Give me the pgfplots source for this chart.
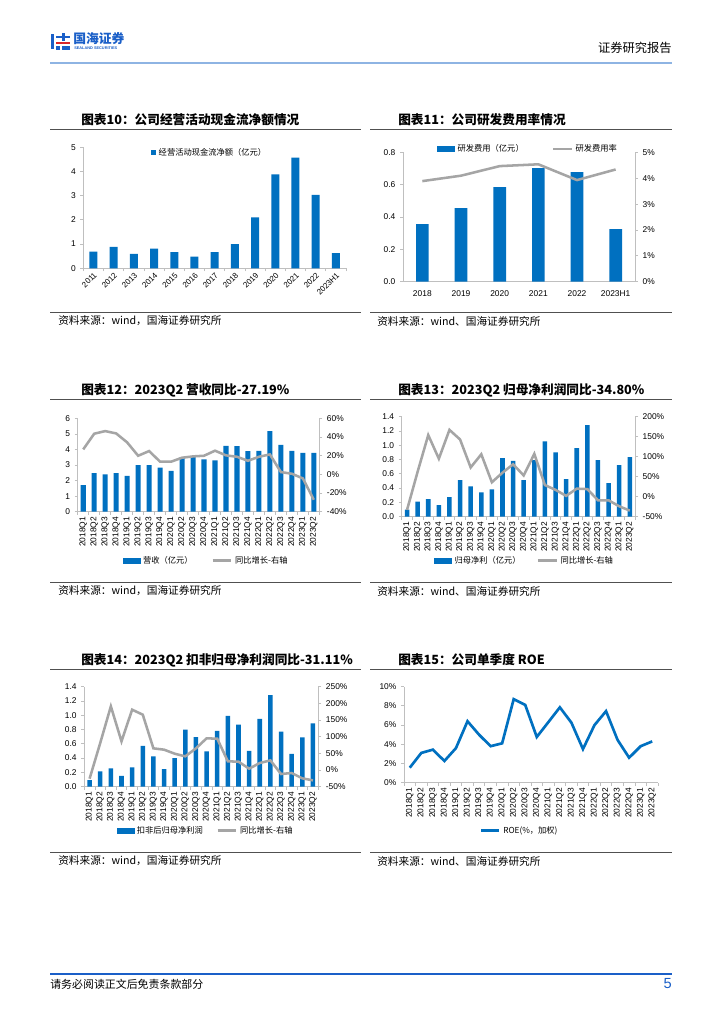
\documentclass[border=0pt]{standalone}
\usepackage{fontspec}
\setmainfont{Liberation Sans}
\newfontfamily\cjk{Noto Sans CJK SC}
\usepackage{pgfplots}
\pgfplotsset{compat=1.18}

\definecolor{barblue}{HTML}{0070C0}
\definecolor{linegrey}{HTML}{A5A5A5}
\definecolor{axgrey}{HTML}{BFBFBF}
\definecolor{rulegrey}{HTML}{505050}
\definecolor{hdrblue}{HTML}{1A5FC8}
\definecolor{hdrline}{HTML}{8EB4E3}
\definecolor{logored}{HTML}{D9262B}

\pgfplotsset{
  base/.style={
    scale only axis, anchor=south west, clip=false,
    /pgf/number format/assume math mode=true,
    tick label style={font=\fontsize{6.3}{7}\selectfont},
    axis line style={axgrey, line width=0.6pt},
    tick style={axgrey, line width=0.6pt},
    major tick length=2.2pt, tick align=outside,
  },
  leftax/.style={base, axis x line*=bottom, axis y line*=left},
  rightax/.style={base, axis x line=none, axis y line*=right,
    yticklabel={\pgfmathprintnumber{\tick}\%}},
  qx/.style={xmin=-0.5, xmax=21.5, xtick={-0.5,0.5,...,21.5}, x tick label as interval,
    xticklabels={2018Q1,2018Q2,2018Q3,2018Q4,2019Q1,2019Q2,2019Q3,2019Q4,2020Q1,2020Q2,2020Q3,2020Q4,2021Q1,2021Q2,2021Q3,2021Q4,2022Q1,2022Q2,2022Q3,2022Q4,2023Q1,2023Q2},
    xticklabel style={rotate=90, anchor=east, inner xsep=1.5pt, inner ysep=0.3pt}},
  dual legend/.style={legend style={draw=none, fill=none,
    font=\cjk\fontsize{6.2}{7}\selectfont, legend columns=2, anchor=center,
    /tikz/every even column/.append style={column sep=#1}}},
  barimg/.style={legend image code/.code={\fill[barblue] (0pt,-1.9pt) rectangle (12.8pt,1.9pt);}},
  lineimg/.style={legend image code/.code={\draw[linegrey, line width=1.9pt] (0pt,0pt) -- (14pt,0pt);}},
}

\begin{document}
\begin{tikzpicture}
\fill[white] (0pt,0pt) rectangle (543pt,-768pt);

\begin{scope}[x=0.75pt, y=-0.75pt]
% header
\fill[hdrblue] (51,34) rectangle (54,49);
\fill[hdrblue] (56,36) rectangle (70,38.5);
\fill[hdrblue] (62,33) rectangle (64.5,41);
\fill[logored] (56,42) rectangle (70,44.5);
\fill[hdrblue] (56,46) rectangle (59.5,50);
\fill[hdrblue] (62,46) rectangle (70,50);
\node[anchor=west, inner sep=0pt, text=hdrblue, font=\cjk\bfseries\fontsize{9.6}{10}\selectfont] at (73,39) {国海证券};
\node[anchor=west, inner sep=0pt, text=hdrblue, font=\bfseries\fontsize{2.9}{3}\selectfont] at (74,48) {SEALAND SECURITIES};
\node[anchor=east, inner sep=0pt, font=\cjk\fontsize{9.2}{10}\selectfont] at (672,48) {证券研究报告};
\draw[hdrline, line width=0.8pt] (50,63) -- (672,63);

% footer
\draw[hdrblue, line width=0.8pt] (50,974) -- (672,974);
\node[anchor=west, inner sep=0pt, font=\cjk\fontsize{8.2}{9}\selectfont] at (50,984) {请务必阅读正文后免责条款部分};
\node[anchor=east, inner sep=0pt, text=hdrblue, font=\fontsize{11}{12}\selectfont] at (672,984) {5};

% titles
\node[anchor=west, inner sep=0pt, font=\cjk\bfseries\fontsize{9.5}{11}\selectfont] at (81,120) {图表10：公司经营活动现金流净额情况};
\node[anchor=west, inner sep=0pt, font=\cjk\bfseries\fontsize{9.5}{11}\selectfont] at (398,120) {图表11：公司研发费用率情况};
\node[anchor=west, inner sep=0pt, font=\cjk\bfseries\fontsize{9.5}{11}\selectfont] at (81,390) {图表12：2023Q2 营收同比-27.19\%};
\node[anchor=west, inner sep=0pt, font=\cjk\bfseries\fontsize{9.5}{11}\selectfont] at (398,390) {图表13：2023Q2 归母净利润同比-34.80\%};
\node[anchor=west, inner sep=0pt, font=\cjk\bfseries\fontsize{9.5}{11}\selectfont] at (81,660) {图表14：2023Q2 扣非归母净利润同比-31.11\%};
\node[anchor=west, inner sep=0pt, font=\cjk\bfseries\fontsize{9.5}{11}\selectfont] at (398,660) {图表15：公司单季度 ROE};

% rules and sources
\foreach \ya/\yb in {129/312, 399/582, 669/852} {
  \draw[rulegrey, line width=0.7pt] (50,\ya) -- (361,\ya);
  \draw[rulegrey, line width=0.7pt] (370,\ya) -- (672,\ya);
  \draw[rulegrey, line width=0.7pt] (50,\yb) -- (361,\yb);
  \draw[rulegrey, line width=0.7pt] (370,\yb) -- (672,\yb);
  \node[anchor=west, inner sep=0pt, font=\cjk\fontsize{8}{9}\selectfont] at (58,\yb+9) {资料来源：wind，国海证券研究所};
  \node[anchor=west, inner sep=0pt, font=\cjk\fontsize{8}{9}\selectfont] at (377,\yb+9) {资料来源：wind、国海证券研究所};
}
\end{scope}

% ---- chart 10
\begin{axis}[leftax, at={(62.5pt,-201.2pt)}, width=197pt, height=90.75pt,
  ymin=0, ymax=5, ytick={0,1,2,3,4,5},
  xmin=-0.5, xmax=12.5, xtick={-0.5,0.5,...,12.5}, x tick label as interval,
  xticklabels={2011,2012,2013,2014,2015,2016,2017,2018,2019,2020,2021,2022,2023H1},
  xticklabel style={rotate=45, anchor=north east, inner sep=0.2pt, font=\fontsize{6}{7}\selectfont},
  ybar, bar width=6pt,
  legend style={at={(0.482,0.955)}, anchor=center, draw=none, fill=none,
    font=\cjk\fontsize{6.2}{7}\selectfont}]
\addplot[fill=barblue, draw=none,
  legend image code/.code={\fill[barblue] (0pt,-1.9pt) rectangle (3.8pt,1.9pt);}]
  coordinates {(0,0.69) (1,0.88) (2,0.59) (3,0.81) (4,0.67) (5,0.48) (6,0.67)
               (7,1.00) (8,2.10) (9,3.88) (10,4.57) (11,3.03) (12,0.63)};
\addlegendentry{经营活动现金流净额（亿元）}
\end{axis}

% ---- chart 11
\begin{axis}[leftax, at={(302.25pt,-211.3pt)}, width=174pt, height=97pt,
  ymin=0, ymax=0.8, ytick={0,0.2,0.4,0.6,0.8},
  yticklabel style={/pgf/number format/.cd, fixed, fixed zerofill, precision=1},
  xmin=-0.5, xmax=5.5, xtick={0,1,2,3,4,5},
  xticklabels={2018,2019,2020,2021,2022,2023H1}, xtick style={draw=none},
  xticklabel style={inner sep=1pt, yshift=-3pt},
  ybar, bar width=9.5pt]
\addplot[fill=barblue, draw=none]
  coordinates {(0,0.357) (1,0.456) (2,0.586) (3,0.703) (4,0.678) (5,0.326)};
\end{axis}
\begin{axis}[rightax, at={(302.25pt,-211.3pt)}, width=174pt, height=97pt,
  xmin=-0.5, xmax=5.5, ymin=0, ymax=5, ytick={0,1,2,3,4,5},
  dual legend=19pt, legend style={at={(0.541,1.026)}}]
\addlegendimage{barimg}
\addlegendentry{研发费用（亿元）}
\addplot[linegrey, line width=1.9pt, mark=none, lineimg]
  coordinates {(0,3.89) (1,4.10) (2,4.47) (3,4.54) (4,3.93) (5,4.34)};
\addlegendentry{研发费用率}
\end{axis}

% ---- chart 12
\begin{axis}[leftax, qx, at={(58.3pt,-383.8pt)}, width=181.2pt, height=70pt,
  ymin=0, ymax=6, ytick={0,1,2,3,4,5,6}, ybar, bar width=3.8pt]
\addplot[fill=barblue, draw=none]
  coordinates {(0,1.71) (1,2.48) (2,2.40) (3,2.48) (4,2.31) (5,3.00) (6,3.00) (7,2.83)
               (8,2.63) (9,3.51) (10,3.56) (11,3.36) (12,3.30) (13,4.24) (14,4.22) (15,3.90)
               (16,3.92) (17,5.18) (18,4.30) (19,3.92) (20,3.79) (21,3.79)};
\end{axis}
\begin{axis}[rightax, at={(58.3pt,-383.8pt)}, width=181.2pt, height=70pt,
  xmin=-0.5, xmax=21.5, ymin=-40, ymax=60, ytick={-40,-20,0,20,40,60},
  dual legend=12pt, legend style={at={(0.533,-0.525)}}]
\addlegendimage{barimg}
\addlegendentry{营收（亿元）}
\addplot[linegrey, line width=1.9pt, mark=none, lineimg]
  coordinates {(0,26.8) (1,43.6) (2,46.4) (3,43.9) (4,34.3) (5,20.0) (6,25.0) (7,13.6)
               (8,13.6) (9,17.9) (10,19.3) (11,20.0) (12,25.4) (13,20.4) (14,18.9) (15,14.6)
               (16,18.9) (17,21.4) (18,2.5) (19,0.7) (20,-4.3) (21,-27.19)};
\addlegendentry{同比增长-右轴}
\end{axis}

% ---- chart 13
\begin{axis}[leftax, qx, at={(301.3pt,-387.5pt)}, width=175pt, height=75pt,
  ymin=0, ymax=1.4, ytick={0,0.2,0.4,0.6,0.8,1.0,1.2,1.4},
  yticklabel style={/pgf/number format/.cd, fixed, fixed zerofill, precision=1},
  ybar, bar width=3.4pt]
\addplot[fill=barblue, draw=none]
  coordinates {(0,0.098) (1,0.21) (2,0.247) (3,0.16) (4,0.275) (5,0.513) (6,0.424) (7,0.34)
               (8,0.382) (9,0.82) (10,0.78) (11,0.513) (12,0.79) (13,1.054) (14,0.90) (15,0.527)
               (16,0.96) (17,1.28) (18,0.79) (19,0.47) (20,0.72) (21,0.835)};
\end{axis}
\begin{axis}[rightax, at={(301.3pt,-387.5pt)}, width=175pt, height=75pt,
  xmin=-0.5, xmax=21.5, ymin=-50, ymax=200, ytick={-50,0,50,100,150,200},
  dual legend=10pt, legend style={at={(0.528,-0.44)}}]
\addlegendimage{barimg}
\addlegendentry{归母净利（亿元）}
\addplot[linegrey, line width=1.9pt, mark=none, lineimg]
  coordinates {(0,-33) (1,62.5) (2,154) (3,95) (4,167) (5,143) (6,73) (7,106)
               (8,36) (9,60) (10,81) (11,53) (12,107) (13,29) (14,17) (15,2)
               (16,20) (17,19) (18,-9) (19,-9) (20,-24) (21,-34.8)};
\addlegendentry{同比增长-右轴}
\end{axis}

% ---- chart 14
\begin{axis}[leftax, qx, at={(63.2pt,-590pt)}, width=175.5pt, height=75pt,
  ymin=0, ymax=1.4, ytick={0,0.2,0.4,0.6,0.8,1.0,1.2,1.4},
  yticklabel style={/pgf/number format/.cd, fixed, fixed zerofill, precision=1},
  ybar, bar width=3.4pt]
\addplot[fill=barblue, draw=none]
  coordinates {(0,0.093) (1,0.215) (2,0.257) (3,0.15) (4,0.27) (5,0.57) (6,0.425) (7,0.247)
               (8,0.40) (9,0.80) (10,0.695) (11,0.495) (12,0.78) (13,0.99) (14,0.87) (15,0.50)
               (16,0.95) (17,1.28) (18,0.77) (19,0.46) (20,0.69) (21,0.885)};
\end{axis}
\begin{axis}[rightax, at={(63.2pt,-590pt)}, width=175.5pt, height=75pt,
  xmin=-0.5, xmax=21.5, ymin=-50, ymax=250, ytick={-50,0,50,100,150,200,250},
  dual legend=8pt, legend style={at={(0.52,-0.44)}}]
\addlegendimage{barimg}
\addlegendentry{扣非后归母净利润}
\addplot[linegrey, line width=1.9pt, mark=none, lineimg]
  coordinates {(0,-26) (1,81) (2,191) (3,86) (4,181) (5,166) (6,65) (7,61)
               (8,49) (9,41) (10,65) (11,95) (12,94) (13,26) (14,25) (15,4)
               (16,21) (17,29) (18,-12) (19,-9) (20,-25) (21,-31.11)};
\addlegendentry{同比增长-右轴}
\end{axis}

% ---- chart 15
\begin{axis}[leftax, qx, at={(303pt,-587pt)}, width=190.5pt, height=72pt,
  ymin=0, ymax=10, ytick={0,2,4,6,8,10},
  yticklabel={\pgfmathprintnumber{\tick}\%},
  legend style={at={(0.457,-0.5)}, anchor=center, draw=none, fill=none,
    font=\cjk\fontsize{6.2}{7}\selectfont}]
\addplot[barblue, line width=2pt, mark=none,
  legend image code/.code={\draw[barblue, line width=2pt] (0pt,0pt) -- (13.5pt,0pt);}]
  coordinates {(0,1.56) (1,3.1) (2,3.44) (3,2.26) (4,3.6) (5,6.4) (6,5.0) (7,3.8)
               (8,4.1) (9,8.7) (10,8.1) (11,4.76) (12,6.3) (13,7.85) (14,6.25) (15,3.5)
               (16,6.0) (17,7.45) (18,4.45) (19,2.6) (20,3.8) (21,4.3)};
\addlegendentry{ROE(\%，加权)}
\end{axis}
\end{tikzpicture}
\end{document}
